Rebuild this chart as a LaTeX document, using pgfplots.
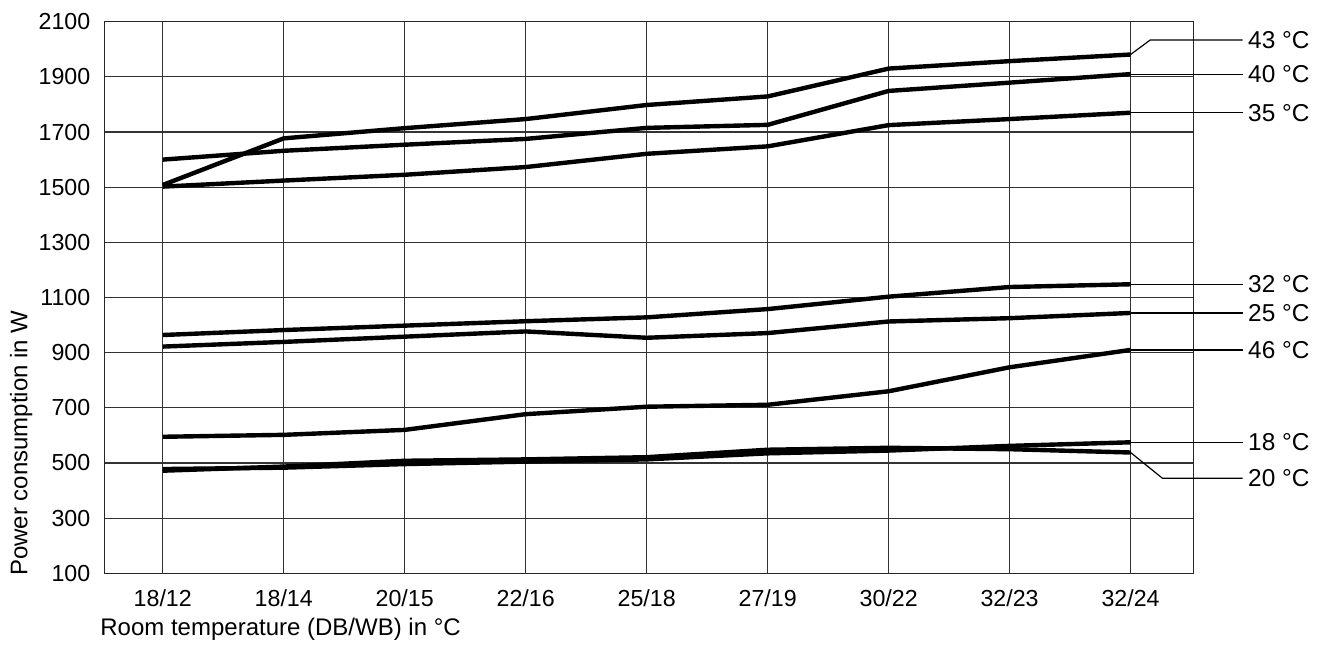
\documentclass[border=0pt]{standalone}
\usepackage{fontspec}
\setmainfont{Liberation Sans}
\usepackage{pgfplots}
\pgfplotsset{compat=1.18}
\tikzset{curve/.style={black, solid, line width=2.2pt, mark=none, line join=round}}
\begin{document}
\begin{tikzpicture}
\begin{axis}[
  scale only axis, width=544.4pt, height=275.8pt,
  xmin=-0.48, xmax=8.52, ymin=100, ymax=2100,
  xtick={0,...,8},
  xticklabels={18/12,18/14,20/15,22/16,25/18,27/19,30/22,32/23,32/24},
  ytick={100,300,...,2100},
  grid=major, major grid style={black!80, line width=0.6pt},
  axis line style={black!85, line width=0.7pt},
  major tick length=0pt,
  tick label style={font=\fontsize{11.6}{13}\selectfont},
  /pgf/number format/assume math mode=true,
  /pgf/number format/1000 sep={},
  xticklabel style={inner sep=0pt, anchor=base, yshift=-16.6pt},
  yticklabel style={inner sep=0pt, anchor=east, xshift=-7pt},
  xlabel={Room temperature (DB/WB) in °C},
  ylabel={Power consumption in W},
  label style={font=\fontsize{12}{14}\selectfont},
  xlabel style={at={(axis description cs:-0.0043,-0.1119)}, anchor=base west, inner sep=0pt},
  ylabel style={at={(axis description cs:-0.0711,-0.0054)}, anchor=base west, inner sep=0pt},
  clip=false,
]
% 43 C
\addplot[curve] coordinates {(0,1508) (1,1677) (2,1714) (3,1747) (4,1798) (5,1829) (6,1930) (7,1957) (8,1981)};
% 40 C
\addplot[curve] coordinates {(0,1600) (1,1632) (2,1654) (3,1675) (4,1715) (5,1726) (6,1849) (7,1879) (8,1910)};
% 35 C
\addplot[curve] coordinates {(0,1502) (1,1524) (2,1545) (3,1573) (4,1621) (5,1648) (6,1725) (7,1747) (8,1770)};
% 32 C
\addplot[curve] coordinates {(0,964) (1,982) (2,998) (3,1014) (4,1028) (5,1058) (6,1103) (7,1138) (8,1148)};
% 25 C
\addplot[curve] coordinates {(0,922) (1,939) (2,958) (3,977) (4,954) (5,971) (6,1013) (7,1025) (8,1044)};
% 46 C
\addplot[curve] coordinates {(0,595) (1,602) (2,620) (3,677) (4,704) (5,711) (6,760) (7,847) (8,910)};
% 18 C
\addplot[curve] coordinates {(0,478) (1,483) (2,496) (3,505) (4,513) (5,535) (6,545) (7,562) (8,575)};
% 20 C
\addplot[curve] coordinates {(0,472) (1,487) (2,508) (3,513) (4,521) (5,548) (6,555) (7,550) (8,538)};

\begin{scope}[line width=0.6pt, black, every node/.style={anchor=west, inner sep=0pt, xshift=2.5pt, font=\fontsize{12.2}{14}\selectfont}]
\draw (axis cs:8,1981) -- (axis cs:8.163,2034) -- (axis cs:8.926,2034) node {43 °C};
\draw (axis cs:8,1910) -- (axis cs:8.926,1910) node {40 °C};
\draw (axis cs:8,1770) -- (axis cs:8.926,1770) node {35 °C};
\draw (axis cs:8,1148) -- (axis cs:8.926,1148) node {32 °C};
\draw (axis cs:8,1044) -- (axis cs:8.926,1044) node {25 °C};
\draw (axis cs:8,910) -- (axis cs:8.926,910) node {46 °C};
\draw (axis cs:8,575) -- (axis cs:8.926,575) node {18 °C};
\draw (axis cs:8,538) -- (axis cs:8.262,445) -- (axis cs:8.926,445) node {20 °C};
\end{scope}
\end{axis}
\pgfresetboundingbox
\useasboundingbox (-52.35pt,-35.35pt) rectangle (607.15pt,286.65pt);
\end{tikzpicture}
\end{document}
